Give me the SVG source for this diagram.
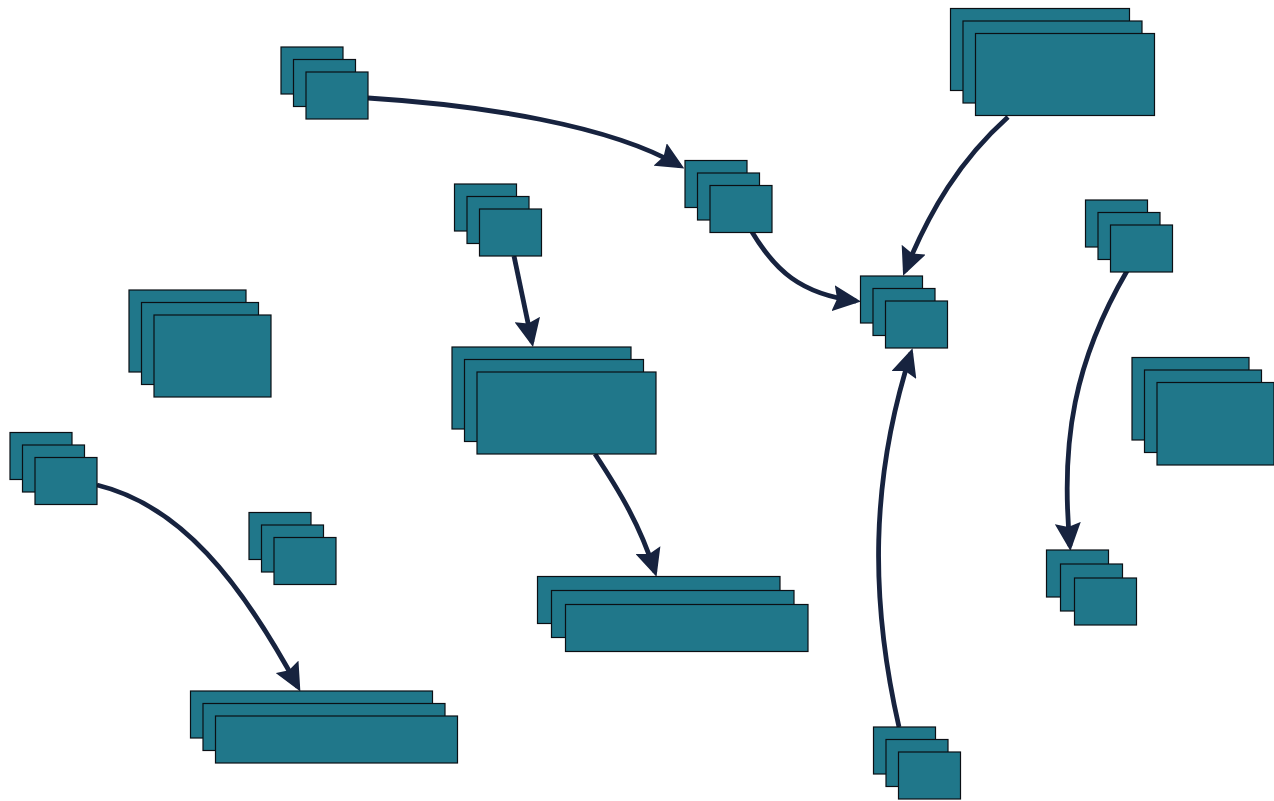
<svg xmlns="http://www.w3.org/2000/svg" width="1274" height="801" viewBox="0 0 1274 801">
<style>
.n rect{fill:#20778A;stroke:#0b0f14;stroke-width:1.2}
.e path{fill:none;stroke:#17233F;stroke-width:4.8;marker-end:url(#ah)}
</style>
<defs>
<marker id="ah" markerUnits="userSpaceOnUse" markerWidth="28" markerHeight="26" viewBox="0 0 28 26" refX="23" refY="13" orient="auto">
<path d="M0,0 L28,13 L0,26 L4,13 z" fill="#17233F"/>
</marker>
</defs>
<rect width="1274" height="801" fill="#ffffff"/>
<g class="e" id="connectors">
<path d="M368,98 C480,105 610,125 680,166"/>
<path d="M752,232 C775,270 800,294 856,301"/>
<path d="M1008,117 C960,160 930,210 905,271"/>
<path d="M514,256 L532,342"/>
<path d="M595,454 C620,492 640,525 655,572"/>
<path d="M97,485 C180,505 240,580 298,687"/>
<path d="M899,727 C870,600 870,480 911,353"/>
<path d="M1127,271 C1075,360 1060,440 1070,546"/>
</g>
<g class="n" id="nA"><rect x="281" y="47" width="62" height="47"/><rect x="293.5" y="59.5" width="62" height="47"/><rect x="306" y="72" width="62" height="47"/></g>
<g class="n" id="nB"><rect x="685" y="160.5" width="62" height="47"/><rect x="697.5" y="173" width="62" height="47"/><rect x="710" y="185.5" width="62" height="47"/></g>
<g class="n" id="nC"><rect x="860.5" y="276" width="62" height="47"/><rect x="873" y="288.5" width="62" height="47"/><rect x="885.5" y="301" width="62" height="47"/></g>
<g class="n" id="nD"><rect x="950.5" y="8.5" width="179" height="82"/><rect x="963" y="21" width="179" height="82"/><rect x="975.5" y="33.5" width="179" height="82"/></g>
<g class="n" id="nE"><rect x="452" y="347" width="179" height="82"/><rect x="464.5" y="359.5" width="179" height="82"/><rect x="477" y="372" width="179" height="82"/></g>
<g class="n" id="nF"><rect x="190.5" y="691" width="242" height="47"/><rect x="203" y="703.5" width="242" height="47"/><rect x="215.5" y="716" width="242" height="47"/></g>
<g class="n" id="nG"><rect x="454.5" y="184" width="62" height="47"/><rect x="467" y="196.5" width="62" height="47"/><rect x="479.5" y="209" width="62" height="47"/></g>
<g class="n" id="nH"><rect x="129" y="290" width="117" height="82"/><rect x="141.5" y="302.5" width="117" height="82"/><rect x="154" y="315" width="117" height="82"/></g>
<g class="n" id="nI"><rect x="10" y="432.5" width="62" height="47"/><rect x="22.5" y="445" width="62" height="47"/><rect x="35" y="457.5" width="62" height="47"/></g>
<g class="n" id="nJ"><rect x="249" y="512.5" width="62" height="47"/><rect x="261.5" y="525" width="62" height="47"/><rect x="274" y="537.5" width="62" height="47"/></g>
<g class="n" id="nK"><rect x="537.5" y="576.5" width="242.5" height="47"/><rect x="551.5" y="590.5" width="242.5" height="47"/><rect x="565.5" y="604.5" width="242.5" height="47"/></g>
<g class="n" id="nL"><rect x="873.5" y="727" width="62" height="47"/><rect x="886" y="739.5" width="62" height="47"/><rect x="898.5" y="752" width="62" height="47"/></g>
<g class="n" id="nM"><rect x="1085.5" y="200" width="62" height="47"/><rect x="1098" y="212.5" width="62" height="47"/><rect x="1110.5" y="225" width="62" height="47"/></g>
<g class="n" id="nN"><rect x="1132" y="357.5" width="117" height="82.5"/><rect x="1144.5" y="370" width="117" height="82.5"/><rect x="1157" y="382.5" width="117" height="82.5"/></g>
<g class="n" id="nO"><rect x="1046.5" y="550" width="62" height="47"/><rect x="1060.5" y="564" width="62" height="47"/><rect x="1074.5" y="578" width="62" height="47"/></g>
</svg>
